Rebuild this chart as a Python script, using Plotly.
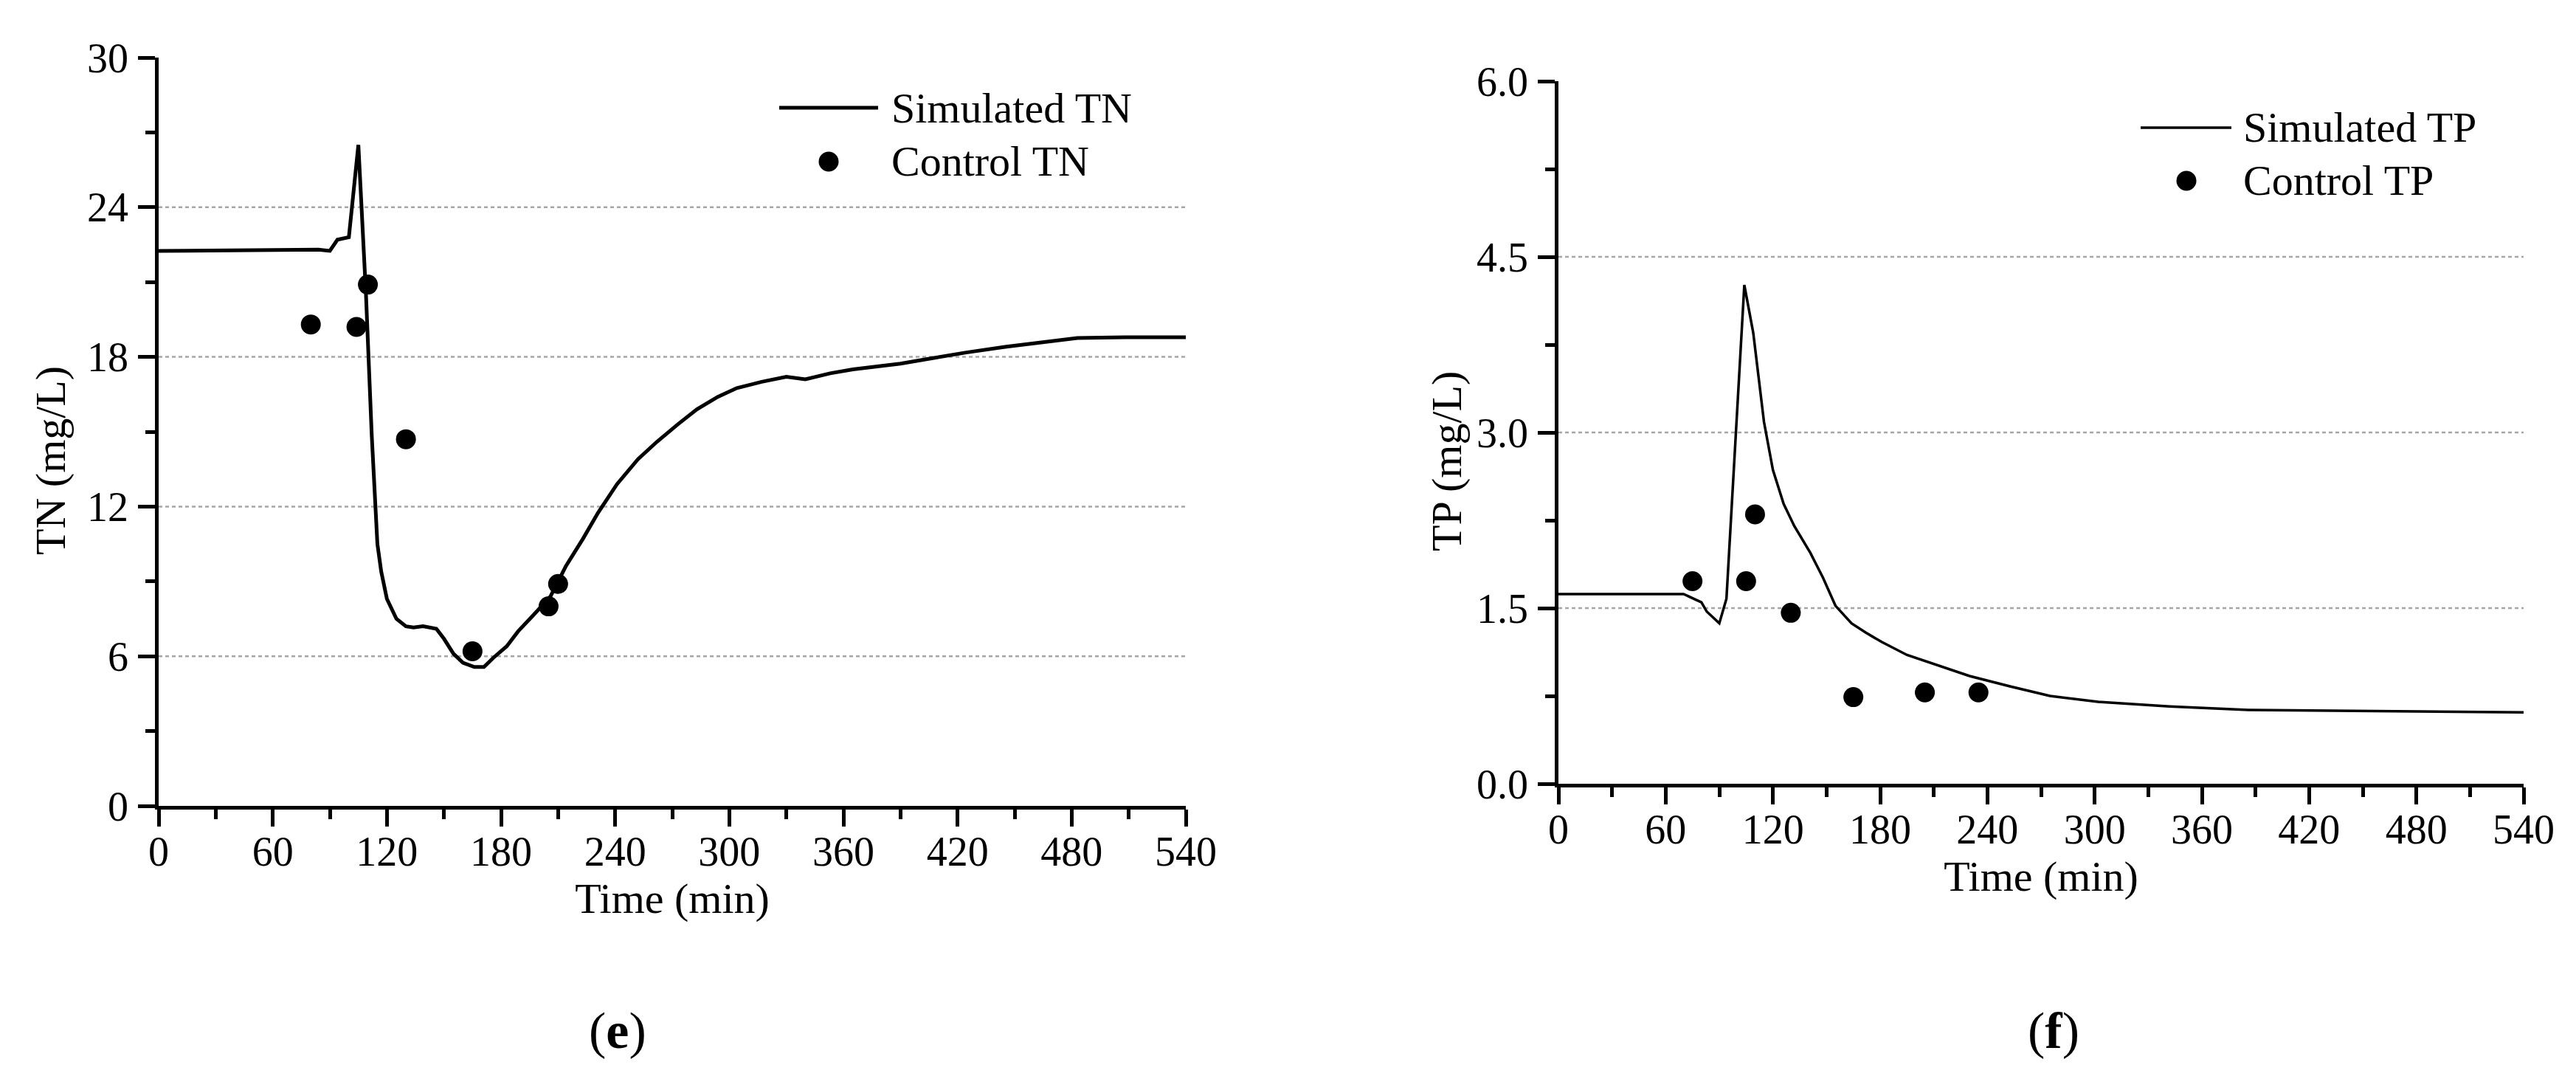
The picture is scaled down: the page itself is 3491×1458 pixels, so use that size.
import plotly.graph_objects as go

# ---- data ----
tn_time = [0, 84, 90, 94, 100, 105, 109, 112, 115, 117, 120, 125, 130, 134, 139, 146, 150, 155, 160, 166,
           171, 176, 183, 189, 197, 206, 214, 223, 231, 241, 252, 262, 273, 283, 294, 304, 317, 330, 340,
           353, 365, 376, 390, 407, 424, 445, 466, 483, 508, 540]
tn_sim = [22.25, 22.3, 22.25, 22.7, 22.8, 26.5, 20.5, 14.9, 10.5, 9.4, 8.3, 7.5, 7.2, 7.15, 7.2, 7.1, 6.7,
          6.1, 5.74, 5.57, 5.57, 5.94, 6.4, 7.0, 7.65, 8.4, 9.6, 10.7, 11.75, 12.9, 13.9, 14.6, 15.3, 15.9,
          16.4, 16.75, 17.0, 17.2, 17.1, 17.34, 17.5, 17.6, 17.73, 17.95, 18.17, 18.4, 18.6, 18.76, 18.79, 18.79]
tn_ctrl_time = [80, 104, 110, 130, 165, 205, 210]
tn_ctrl = [19.3, 19.2, 20.9, 14.7, 6.2, 8.0, 8.9]

tp_time = [0, 70, 80, 83, 90, 94, 104, 109, 115, 120, 126, 132, 141, 148, 155, 164, 172, 181, 195, 213,
           230, 253, 275, 302, 342, 386, 453, 540]
tp_sim = [1.62, 1.62, 1.55, 1.47, 1.37, 1.58, 4.26, 3.85, 3.09, 2.68, 2.39, 2.2, 1.97, 1.76, 1.52, 1.37,
          1.29, 1.21, 1.10, 1.01, 0.92, 0.83, 0.75, 0.70, 0.66, 0.63, 0.62, 0.61]
tp_ctrl_time = [75, 105, 110, 130, 165, 205, 235]
tp_ctrl = [1.73, 1.73, 2.30, 1.46, 0.74, 0.78, 0.78]

x_ticks = [0, 60, 120, 180, 240, 300, 360, 420, 480, 540]
tn_ticks = [0, 6, 12, 18, 24, 30]
tp_ticks = [0.0, 1.5, 3.0, 4.5, 6.0]
tn_grid = [6, 12, 18, 24]
tp_grid = [1.5, 3.0, 4.5]

W, H = 3491, 1458
FONT = "Liberation Serif"

fig = go.Figure()
fig.add_trace(go.Scatter(x=tn_time, y=tn_sim, mode="lines", name="Simulated TN",
                         line=dict(color="black", width=5), xaxis="x", yaxis="y", showlegend=False))
fig.add_trace(go.Scatter(x=tn_ctrl_time, y=tn_ctrl, mode="markers", name="Control TN",
                         marker=dict(color="black", size=27), xaxis="x", yaxis="y", showlegend=False))
fig.add_trace(go.Scatter(x=tp_time, y=tp_sim, mode="lines", name="Simulated TP",
                         line=dict(color="black", width=3.5), xaxis="x2", yaxis="y2", showlegend=False))
fig.add_trace(go.Scatter(x=tp_ctrl_time, y=tp_ctrl, mode="markers", name="Control TP",
                         marker=dict(color="black", size=27), xaxis="x2", yaxis="y2", showlegend=False))

tickfont = dict(family=FONT, size=56, color="black")


def xax(domain, anchor):
    return dict(domain=domain, anchor=anchor, range=[0, 540], tickvals=x_ticks,
                showline=True, linewidth=4.5, linecolor="black", mirror=False,
                ticks="outside", ticklen=23, tickwidth=4.5, tickcolor="black",
                minor=dict(dtick=30, tick0=0, ticks="outside", ticklen=13, tickwidth=4.5, tickcolor="black"),
                showgrid=False, zeroline=False, tickfont=tickfont, ticklabelstandoff=-14,
                title=dict(text="Time (min)", font=dict(family=FONT, size=58, color="black"), standoff=6),
                automargin=False)


def yax(domain, anchor, rng, ticks, minor_dtick, fmt):
    return dict(domain=domain, anchor=anchor, range=rng, tickvals=ticks, tickformat=fmt,
                showline=True, linewidth=4.5, linecolor="black", mirror=False,
                ticks="outside", ticklen=23, tickwidth=4.5, tickcolor="black",
                minor=dict(dtick=minor_dtick, tick0=0, ticks="outside", ticklen=13, tickwidth=4.5,
                           tickcolor="black"),
                showgrid=False, zeroline=False, tickfont=tickfont, ticklabelstandoff=2,
                automargin=False)


fig.update_layout(
    width=W, height=H,
    margin=dict(l=0, r=0, t=0, b=0),
    paper_bgcolor="white", plot_bgcolor="white",
    font=dict(family=FONT, color="black"),
    xaxis=xax([207 / W, 1599 / W], "y"),
    yaxis=yax([(H - 1084) / H, (H - 70) / H], "x", [0, 30], tn_ticks, 3, "d"),
    xaxis2=xax([2104 / W, 3412 / W], "y2"),
    yaxis2=yax([(H - 1054) / H, (H - 102) / H], "x2", [0, 6], tp_ticks, 0.75, ".1f"),
)

shapes = []
for g in tn_grid:
    shapes.append(dict(type="line", xref="x domain", yref="y", x0=0, x1=1, y0=g, y1=g, layer="below",
                       line=dict(color="#a6a6a6", width=2.5, dash="5px,4px")))
for g in tp_grid:
    shapes.append(dict(type="line", xref="x2 domain", yref="y2", x0=0, x1=1, y0=g, y1=g, layer="below",
                       line=dict(color="#a6a6a6", width=2.5, dash="5px,4px")))


# legend samples (drawn manually for long line samples)
def leg_line(x0, x1, y, w):
    return dict(type="line", xref="paper", yref="paper", x0=x0 / W, x1=x1 / W,
                y0=(H - y) / H, y1=(H - y) / H, line=dict(color="black", width=w))


def leg_dot(x, y):
    return dict(type="circle", xref="paper", yref="paper", xsizemode="pixel", ysizemode="pixel",
                xanchor=x / W, yanchor=(H - y) / H, x0=-13.5, x1=13.5, y0=-13.5, y1=13.5,
                fillcolor="black", line=dict(color="black", width=0))


shapes += [leg_line(1048, 1182, 138, 5), leg_dot(1115, 211),
           leg_line(2893, 3016, 165, 3.5), leg_dot(2955, 237)]
fig.update_layout(shapes=shapes)

annos = []


def txt(text, x, y, size=58, xanchor="left", angle=0):
    annos.append(dict(text=text, xref="paper", yref="paper", x=x / W, y=(H - y) / H,
                      xanchor=xanchor, yanchor="middle", showarrow=False, textangle=angle,
                      font=dict(family=FONT, size=size, color="black")))


txt("Simulated TN", 1198, 138)
txt("Control TN", 1198, 211)
txt("Simulated TP", 3030, 165)
txt("Control TP", 3030, 237)
txt("TN (mg/L)", 60, 616, xanchor="center", angle=-90)
txt("TP (mg/L)", 1952, 617, xanchor="center", angle=-90)
txt("(<b>e</b>)", 829, 1388, size=70, xanchor="center")
txt("(<b>f</b>)", 2775, 1388, size=70, xanchor="center")
fig.update_layout(annotations=annos)

fig.write_html("out.html")
